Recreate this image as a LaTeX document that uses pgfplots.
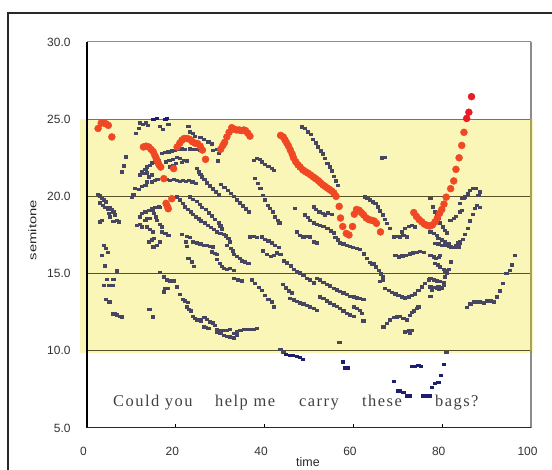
\documentclass[border=0pt]{standalone}
\usepackage{fontspec}
\setmainfont{Liberation Sans}
\newfontfamily\wordfont[LetterSpace=9]{Liberation Serif}
\usepackage{pgfplots}
\pgfplotsset{compat=1.18}

\definecolor{band}{RGB}{250,246,184}
\definecolor{olive}{RGB}{88,82,38}
\definecolor{oliveedge}{RGB}{168,160,96}
\definecolor{axisgray}{RGB}{140,140,140}
\definecolor{framegray}{RGB}{40,40,40}
\definecolor{dotin}{RGB}{70,70,96}
\definecolor{dotout}{RGB}{30,30,112}
\definecolor{f0in}{RGB}{240,72,36}
\definecolor{f0out}{RGB}{232,28,36}

\begin{document}
\begin{tikzpicture}[x=1bp,y=1bp]
\useasboundingbox (-87,-42) rectangle (465,428);
% outer chart frame
\draw[line width=1.2bp, framegray] (-79,-60) -- (-79,415) -- (500,415);

\begin{axis}[
  at={(0,0)}, anchor=south west,
  scale only axis, width=444bp, height=386bp,
  xmin=0, xmax=100, ymin=5, ymax=30,
  clip=false,
  axis line style={draw=none},
  xtick={0,20,40,60,80,100},
  ytick={5,10,15,20,25,30},
  xtick pos=bottom, ytick pos=left,
  tick align=inside,
  major tick length=4bp,
  xtick style={black, line width=0.8bp},
  ytick style={draw=none},
  /pgf/number format/assume math mode=true,
  tick label style={font=\fontsize{12}{12}\selectfont, text=black!80},
  yticklabel style={/pgf/number format/.cd, fixed, fixed zerofill, precision=1, /tikz/.cd, anchor=east, xshift=-13bp},
  xticklabel style={/pgf/number format/.cd, fixed, precision=0, /tikz/.cd, anchor=center, xshift=-3.5bp, yshift=-23.7bp},
]

% pale yellow band from 10 to 25 semitones
\fill[band] (axis cs:-1.6,9.85) rectangle (axis cs:100.5,25);

% horizontal rules
\draw[olive, line width=1.1bp] (axis cs:0,20) -- (axis cs:100,20);
\draw[olive, line width=1.1bp] (axis cs:0,15) -- (axis cs:100,15);
\draw[olive, line width=1.4bp] (axis cs:0,10) -- (axis cs:100,10);
\draw[black!55, line width=1.2bp] (axis cs:0,25) -- (axis cs:100,25);
\draw[axisgray, line width=1.0bp] (axis cs:0,30) -- (axis cs:100,30);
% right edge
\draw[axisgray, line width=1.2bp] (axis cs:100,30) -- (axis cs:100,25);
\draw[oliveedge, line width=1.2bp] (axis cs:100,25) -- (axis cs:100,10);
\draw[axisgray, line width=1.2bp] (axis cs:100,10) -- (axis cs:100,5);

% harmonic tracks inside the band
\addplot[only marks, mark=square*, mark size=1.25bp, color=dotin, mark options={xscale=1.25}] coordinates {
 (2.4,20.14) (2.9,20.03) (3.4,19.88) (3.8,19.77) (4.3,19.66) (5.0,19.27) (5.6,19.16) (5.9,19.0) (6.3,18.8) (6.7,18.47) (7.05,18.36)
 (2.9,19.6) (3.5,19.44) (4.05,19.3) (4.6,19.16) (4.8,18.9) (5.2,18.69) (5.9,18.4) (3.3,18.47) (2.9,18.36)
 (3.7,16.85) (4.3,16.64) (4.7,16.4) (3.4,16.2) (3.9,15.5) (6.7,15.19) (4.4,14.63) (5.9,14.63) (3.8,14.26) (5.0,14.26) (5.8,14.26)
 (4.2,13.34) (5.0,13.18) (5.9,12.4) (6.3,12.43) (6.7,12.33) (7.3,12.25) (7.8,12.2)
 (7.8,21.6) (8.2,22.0) (8.8,22.57)
 (11.0,24.09) (11.6,24.41) (11.8,24.78) (12.5,24.69) (13.3,24.78) (13.6,24.6) (16.4,24.56) (17.0,24.35) (18.3,24.69)
 (22.8,24.56) (23.2,24.19) (23.9,24.09) (24.3,23.91) (25.5,23.83) (26.2,23.7) (27.3,23.55) (28.1,23.4)
 (28.4,23.0) (29.2,23.05) (29.6,22.79) (29.4,22.31)
 (10.8,20.52) (11.6,20.45) (10.4,20.1) (10.1,19.94)
 (11.9,18.69) (12.3,18.9) (13.1,19.0) (13.8,19.12) (14.6,19.23) (15.3,19.3) (16.1,19.33) (16.4,19.3)
 (11.2,18.15) (11.9,18.21) (12.3,18.04) (13.1,18.47) (13.4,18.58) (14.2,18.58)
 (14.8,19.12) (15.1,18.9) (15.5,18.69) (15.7,18.47) (16.3,18.21) (16.8,18.04)
 (13.4,18.04) (14.2,17.87) (14.8,17.71) (16.8,17.71) (17.6,17.61) (18.3,17.5)
 (16.4,17.07) (15.7,16.85) (14.9,16.75) (13.8,17.07) (14.6,17.18) (15.1,17.29)
 (12.3,21.6) (13.1,21.76) (13.4,21.92) (14.2,22.03) (14.6,22.18) (15.3,22.25) (16.1,22.36)
 (11.9,21.4) (12.7,21.5) (13.4,21.54) (13.8,21.28) (14.6,21.4)
 (13.4,20.95) (13.1,20.74) (12.3,20.67) (14.6,20.95) (15.3,21.06) (15.8,21.1)
 (16.8,22.8) (17.6,22.85) (18.3,22.9) (19.1,22.96) (19.8,23.0) (20.6,23.07) (21.3,23.1) (22.1,23.07) (23.2,23.1) (23.9,23.07) (24.7,23.07) (25.5,23.0)
 (17.8,22.25) (18.5,22.36) (19.3,22.4) (20.2,22.53) (20.9,22.47) (21.7,22.36) (22.5,22.31)
 (18.7,21.92) (19.4,22.03) (20.0,22.14) (21.3,22.2)
 (20.2,19.98) (20.9,19.77) (21.6,19.55) (22.1,19.33) (22.6,19.16) (23.3,19.01) (23.9,18.86) (24.5,18.69) (25.1,18.55) (25.7,18.43)
 (26.5,18.3) (27.2,18.15) (27.9,18.0) (28.6,17.87) (29.3,17.71) (30.0,17.6) (30.7,17.55) (31.3,17.45) (31.8,17.28) (32.1,17.07)
 (31.5,16.85) (32.4,16.64) (32.8,16.49) (33.1,16.27) (33.7,16.14) (34.3,15.99) (34.8,15.83) (35.6,15.77) (36.3,15.67)
 (23.2,19.98) (23.9,19.81) (24.7,19.7) (25.3,19.5) (25.9,19.3) (26.7,19.16) (27.4,18.94) (28.1,18.75) (28.8,18.53) (29.6,18.3) (30.0,18.1) (30.3,17.9)
 (18.0,21.1) (18.7,21.06) (19.5,21.1) (20.2,21.06) (20.9,21.0) (21.6,21.06) (22.3,21.0) (23.0,21.06) (23.7,20.95) (24.4,20.85)
 (24.7,21.82) (25.1,21.6) (25.5,21.45) (25.8,21.28) (26.4,21.1) (27.0,20.9) (27.6,20.7) (28.3,20.5) (29.0,20.3) (29.7,20.1)
 (30.2,20.8) (30.9,20.6) (31.6,20.4) (32.3,20.2) (33.0,20.0) (33.7,19.8) (34.4,19.6) (35.1,19.4) (35.8,19.2) (36.5,19.0)
 (16.4,15.08) (17.2,14.8) (18.0,14.6) (18.7,14.55) (19.4,14.55) (20.2,14.16) (20.8,13.68) (21.5,13.34) (22.1,13.23) (22.6,13.14)
 (17.6,14.05) (18.1,14.05) (17.2,13.83)
 (22.4,12.86) (23.0,12.69) (23.4,12.6) (23.8,12.25) (24.3,12.1) (24.7,12.0) (25.3,12.04) (25.6,11.95)
 (26.4,12.17) (26.9,12.04) (27.7,11.88) (28.4,11.82) (28.8,11.67) (26.2,11.56) (26.8,11.52) (27.3,11.46)
 (29.2,11.39) (30.0,11.35) (30.7,11.35) (31.5,11.35) (32.2,11.39) (33.0,11.13) (33.7,11.24) (34.5,11.35) (35.2,11.41) (35.9,11.41) (36.7,11.41) (37.5,11.41) (38.2,11.46)
 (29.2,11.24) (30.0,11.13) (30.7,11.02) (31.5,10.95) (32.2,10.9) (33.0,10.86) (33.7,11.02)
 (13.8,12.7) (14.2,12.7) (14.8,12.21)
 (21.3,17.56) (22.5,17.43) (23.2,17.35) (22.5,16.79) (22.3,17.07) (23.9,17.07) (24.7,17.0) (25.5,16.92) (26.2,16.85) (27.0,16.85) (27.7,16.79) (28.4,16.75)
 (22.8,15.99) (23.6,15.77) (24.1,15.49)
 (28.1,16.42) (28.8,16.31) (29.2,16.27)
 (29.2,15.93) (29.8,15.67) (30.3,15.49) (30.8,15.34) (31.5,15.28) (32.2,15.34) (33.0,15.23)
 (33.0,14.69) (33.9,14.59) (34.8,14.55)
 (36.7,17.39) (37.5,17.43) (38.2,17.35) (39.3,17.39) (40.1,17.22) (40.8,17.13) (41.6,17.0) (42.3,16.85) (43.1,16.7)
 (37.1,14.59) (37.8,14.37) (38.6,14.11) (39.3,13.94) (40.1,13.61) (40.8,13.34) (41.6,13.18) (42.1,12.86)
 (39.6,16.49) (40.5,16.27) (41.4,16.14) (42.0,16.2) (42.7,16.35) (43.5,16.27)
 (44.3,15.85) (45.0,15.7) (45.8,15.5) (46.5,15.3) (47.2,15.15) (48.0,15.05) (48.7,14.9) (49.5,14.7) (50.2,14.6) (51.0,14.4)
 (51.7,14.7) (52.5,14.6) (53.2,14.45) (54.0,14.3) (54.7,14.2) (55.5,14.05) (56.2,13.95) (57.0,13.85) (57.7,13.75) (58.5,13.65) (59.2,13.55) (60.0,13.5) (60.7,13.45) (61.5,13.4) (62.2,13.35)
 (52.5,13.5) (53.2,13.4) (54.0,13.25) (54.7,13.1) (55.5,13.0) (56.2,12.9) (57.0,12.75) (57.7,12.6) (58.5,12.45) (59.2,12.35) (60.0,12.25)
 (45.7,13.4) (46.5,13.3) (47.2,13.2) (48.0,13.1) (48.7,13.05) (49.5,12.95) (50.2,12.85) (51.0,12.75) (51.7,12.64)
 (44.1,14.3) (44.8,14.1) (45.5,13.9) (46.2,13.75)
 (37.5,22.36) (38.2,22.47) (38.8,22.4) (39.3,22.25) (40.1,22.1) (40.8,21.97) (41.6,21.82) (42.0,21.71)
 (37.8,21.17) (38.4,20.85) (39.0,20.52) (39.6,20.09) (40.1,19.77) (40.6,19.44) (41.2,19.23) (41.8,19.01) (42.3,18.69) (42.9,18.47) (43.3,18.3)
 (48.4,24.51) (49.1,24.41) (49.8,24.19) (50.3,24.04) (50.9,23.7) (51.5,23.48) (52.0,23.22) (52.6,22.96) (53.0,22.75) (53.6,22.47)
 (54.1,22.14) (54.7,21.92) (55.1,21.66) (55.6,21.32) (56.1,21.01) (56.4,20.73)
 (62.6,19.98) (63.1,19.88) (63.7,19.77) (64.3,19.66) (64.9,19.55) (65.4,19.33) (66.0,19.07) (66.6,18.8) (67.1,18.52) (67.5,18.26) (68.1,17.93)
 (46.8,19.23) (49.1,18.8) (49.8,18.64) (51.0,19.33) (51.6,19.16) (52.3,19.0) (53.1,18.9) (53.6,18.8) (54.3,18.94) (55.1,18.86)
 (50.2,18.47) (51.0,18.3) (51.7,18.21) (52.5,18.15) (53.2,18.08) (54.1,17.93) (54.9,17.78) (55.5,17.65)
 (47.2,17.71) (48.0,17.5) (48.7,17.39) (49.5,17.43) (50.2,17.39) (51.0,17.07) (51.7,17.0)
 (55.9,17.35) (56.4,17.18) (57.0,17.0) (57.7,16.92) (58.5,16.85) (59.2,16.79) (59.9,16.7) (60.7,16.64) (61.5,16.57)
 (62.3,16.3) (63.0,16.0) (63.7,15.75) (64.2,15.6)
 (64.5,15.67) (65.1,15.45) (65.6,15.23) (66.1,15.0) (66.6,14.8) (66.0,14.5) (66.6,14.6)
 (67.1,14.05) (67.9,13.94) (68.6,13.8) (69.4,13.7) (70.1,13.6) (70.9,13.5) (71.6,13.45) (72.4,13.5) (73.1,13.6) (73.9,13.7)
 (74.6,13.94) (75.4,14.15) (76.1,14.37) (76.9,14.59)
 (69.0,17.39) (69.8,17.43) (70.5,17.39) (71.2,17.5) (72.0,17.39) (70.9,17.7) (71.6,17.93) (72.4,18.08) (73.1,18.15) (73.9,18.04)
 (69.4,16.2) (70.2,16.1) (71.0,16.15) (71.8,16.2) (72.6,16.3) (73.4,16.35) (74.2,16.4) (75.0,16.45) (75.8,16.4)
 (66.4,22.5) (67.1,22.53)
 (43.5,10.1) (44.2,9.94) (56.8,10.55)
 (60.0,12.86) (60.7,12.75) (61.5,12.64) (61.9,12.43) (62.2,11.95)
 (66.7,11.56) (67.5,11.78) (68.2,12.0) (69.0,12.17) (69.7,12.21) (70.5,12.25) (71.2,12.1) (72.0,12.0) (72.7,12.3) (73.1,12.51) (73.5,12.6) (74.3,12.75) (74.6,12.86)
 (71.6,11.24) (72.4,11.3) (72.7,11.17) (73.1,11.35)
 (77.3,16.2) (78.0,16.1) (78.6,16.0) (79.3,16.07) (79.5,16.2)
 (78.4,15.67) (78.9,15.56) (79.5,15.45) (80.3,15.28) (81.0,15.23) (81.4,15.28) (80.6,15.12) (81.0,15.02) (82.0,15.78)
 (77.3,14.7) (78.0,14.6) (78.8,14.55) (79.5,14.5) (80.3,14.44) (80.6,14.8) (80.4,14.26) (79.9,14.1) (79.3,13.98)
 (77.3,14.15) (77.6,13.94) (78.2,14.11) (78.8,14.05) (79.1,14.15) (77.3,13.55)
 (77.3,19.88) (77.9,19.33) (78.4,19.01) (78.8,18.8) (79.1,18.58) (79.5,18.3) (80.1,18.04) (80.6,17.82) (81.0,17.65)
 (77.3,17.71) (78.0,17.61) (78.8,17.5) (79.1,17.29) (79.9,17.18) (80.6,17.07) (81.4,16.92)
 (86.1,20.41) (86.9,20.52) (87.6,20.52) (88.4,20.3) (88.1,20.09) (84.0,19.55) (84.4,19.88) (84.8,19.88) (85.1,19.98) (85.7,20.16)
 (87.8,19.44) (88.4,19.3) (87.4,19.23) (86.9,18.86) (86.1,18.43) (85.7,17.93) (85.1,17.56) (84.6,17.22) (84.0,16.96) (83.6,16.75)
 (81.8,18.47) (82.5,18.58) (83.1,18.73) (83.9,19.01) (84.4,19.12)
 (78.4,16.96) (79.1,16.92) (79.9,16.85) (80.6,16.85) (81.4,16.79) (81.9,16.75) (82.5,16.7) (83.1,16.85) (83.4,17.0) (84.0,17.07)
 (85.5,12.82) (86.3,13.04) (87.0,13.18) (87.8,13.18) (88.5,13.18) (89.3,13.12) (90.0,13.25) (90.8,13.23) (91.6,13.18)
 (92.3,13.5) (92.9,13.89) (93.7,14.37) (94.4,15.02) (95.2,15.23) (95.7,15.56) (96.4,16.2)
 (80.9,9.9)
};

% tracks below and above the band
\addplot[only marks, mark=square*, mark size=1.25bp, color=dotout, mark options={xscale=1.25}] coordinates {
 (14.9,25.0) (15.7,25.05) (17.6,25.0) (17.9,25.05)
 (44.8,9.79) (45.6,9.73) (46.3,9.73) (47.2,9.66) (48.0,9.58) (48.6,9.45)
 (57.6,9.3) (58.1,8.9) (58.8,8.9)
 (69.1,8.04) (69.9,7.42) (70.5,7.4) (71.2,7.31) (72.0,7.1) (72.6,7.1)
 (73.1,9.0) (73.9,9.0) (74.6,9.06) (75.2,9.0)
 (75.6,7.1) (76.4,7.1) (77.1,7.1) (77.6,7.64) (78.4,7.9) (79.1,7.96) (79.7,8.43) (80.3,9.14)
};

% fundamental frequency contour
\addplot[only marks, mark=*, mark size=3.5bp, color=f0in] coordinates {
 (2.5,24.4) (3.2,24.75) (3.8,24.75) (4.3,24.7) (4.8,24.6) (5.6,23.85)
 (12.7,23.2) (13.3,23.25) (13.9,23.2) (14.4,23.05) (14.9,22.9) (15.3,22.65) (15.6,22.45) (15.9,22.25) (16.2,22.05) (16.6,21.9)
 (17.3,21.15) (19.5,21.8) (17.8,19.55) (18.1,19.35) (18.3,19.2) (19.1,19.85)
 (20.3,23.2) (20.9,23.45) (21.4,23.65) (21.9,23.75) (22.5,23.75) (23.1,23.7) (23.7,23.55) (24.3,23.45) (24.9,23.42) (25.5,23.25) (26.0,23.0) (26.7,22.4)
 (30.1,23.05) (30.6,23.3) (31.0,23.5) (31.5,23.85) (32.0,24.15) (32.6,24.45) (33.2,24.35) (33.7,24.3) (34.3,24.3) (34.8,24.26) (35.3,24.3) (35.7,24.26) (36.2,24.1) (36.7,23.9)
 (43.6,23.95) (44.2,23.85) (44.6,23.65) (45.0,23.45) (45.4,23.25) (45.8,23.0) (46.2,22.75) (46.5,22.5) (47.0,22.25) (47.5,22.05) (48.0,21.9)
 (48.6,21.72) (49.2,21.6) (49.8,21.5) (50.4,21.38) (51.0,21.25) (51.5,21.15) (52.1,21.02) (52.6,20.88) (53.1,20.75) (53.6,20.65)
 (54.1,20.55) (54.6,20.45) (55.1,20.35) (55.6,20.22) (56.1,20.0)
 (56.8,19.35) (57.1,18.6) (57.6,18.05) (58.4,17.6) (59.0,17.5) (59.8,18.05) (60.2,18.85) (60.7,19.15) (61.3,19.1) (61.8,18.95)
 (62.3,18.8) (62.9,18.6) (63.5,18.5) (64.1,18.45) (64.7,18.4) (65.2,18.25) (66.1,17.7)
 (73.6,18.95) (74.2,18.7) (74.8,18.5) (75.4,18.35) (76.0,18.2) (76.6,18.12) (77.2,18.08) (77.8,18.15) (78.4,18.35) (78.9,18.6)
 (79.4,18.9) (79.9,19.15) (80.4,19.5) (80.9,19.95) (81.9,20.5) (82.6,21.0) (83.1,21.75) (83.8,22.5) (84.4,23.3) (84.9,24.15)
};
\addplot[only marks, mark=*, mark size=3.5bp, color=f0out] coordinates {
 (85.5,25.05) (86.0,25.45) (86.6,26.46)
};

% left and bottom axis lines
\draw[black, line width=1.4bp] (axis cs:0,5) -- (axis cs:0,30);
\draw[black!85, line width=1.0bp] (axis cs:0,5) -- (axis cs:100,5);
\end{axis}

% axis titles
\node[font=\fontsize{12.5}{12.5}\selectfont, text=black!85, inner sep=0] at (221,-34.5) {time};
\node[font=\fontsize{11}{11}\selectfont, text=black!85, inner sep=0, rotate=90, xscale=1.35] at (-54.5,198) {semitone};

% spoken sentence
\begin{scope}[every node/.style={anchor=base west, inner sep=0, font=\wordfont\fontsize{16.5}{16.5}\selectfont, text=black!75}]
\node at (26,21.3) {Could you};
\node at (128,21.3) {help me};
\node at (212,21.3) {carry};
\node at (275,21.3) {these};
\node at (348,21.3) {bags?};
\end{scope}
\end{tikzpicture}
\end{document}
